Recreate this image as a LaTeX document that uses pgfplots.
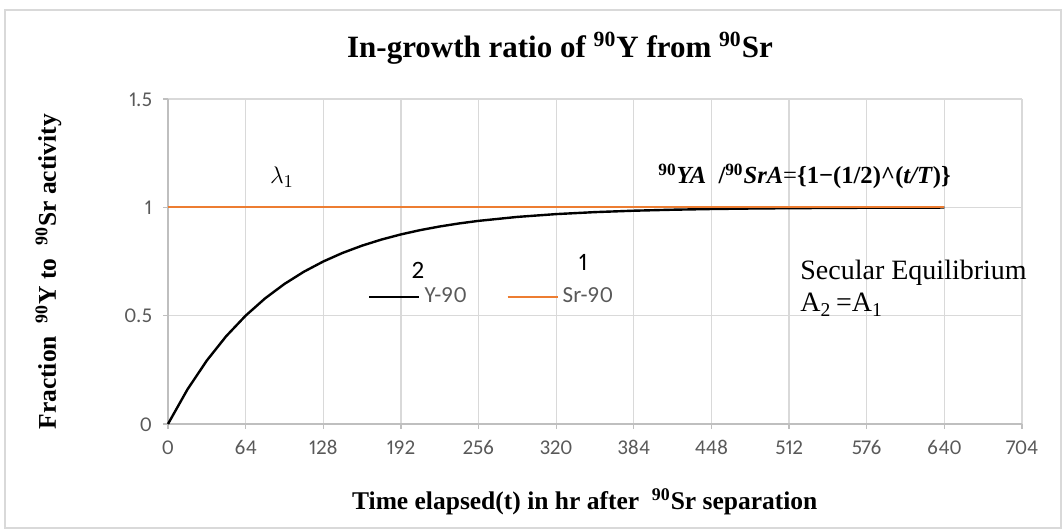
\documentclass[border=0pt]{standalone}
\usepackage{fontspec}
\setmainfont{Liberation Serif}
\newfontfamily\calibri[Numbers={Lining,Proportional}]{Carlito}
\usepackage{pgfplots}
\pgfplotsset{compat=1.18}
\definecolor{gridgray}{HTML}{D9D9D9}
\definecolor{axgray}{HTML}{BFBFBF}
\definecolor{txtgray}{HTML}{595959}
\definecolor{xlorange}{HTML}{ED7D31}
\begin{document}
\begin{tikzpicture}[x=0.5pt,y=0.5pt]
\path[use as bounding box] (0,0) rectangle (1062,529);
\draw[gridgray, line width=0.6pt] (5,1) rectangle (1061,519);
\begin{axis}[
  at={(84pt,52.5pt)}, anchor=south west,
  scale only axis, width=427pt, height=162.5pt,
  xmin=0, xmax=704, ymin=0, ymax=1.5,
  xtick={0,64,128,192,256,320,384,448,512,576,640,704},
  xticklabels={0,64,128,192,256,320,384,448,512,576,640,704},
  ytick={0,0.5,1,1.5},
  yticklabels={0,0.5,1,1.5},
  axis lines=left,
  axis line style={-, draw=axgray, line width=0.6pt},
  grid=major,
  major grid style={draw=gridgray, line width=0.6pt},
  tick align=outside,
  major tick length=2.5pt,
  tick style={draw=axgray, line width=0.6pt},
  ticklabel style={font=\calibri\fontsize{10.5}{12}\selectfont, text=txtgray},
  /pgf/number format/assume math mode=true,
  xticklabel style={yshift=-2pt, text height=7.2pt, text depth=0pt},
  yticklabel style={xshift=-2pt, text height=7.2pt, text depth=0pt},
  title={In-growth ratio of \textsuperscript{90}Y from \textsuperscript{90}Sr},
  title style={at={(axis description cs:0.459,1.12)}, anchor=center, font=\fontsize{15.5}{18}\selectfont\bfseries},
  xlabel={Time elapsed(t) in hr after\ \ \textsuperscript{90}Sr separation},
  xlabel style={at={(axis description cs:0.488,-0.24)}, anchor=center, font=\fontsize{12.75}{15}\selectfont\bfseries},
  ylabel={Fraction\ \ \textsuperscript{90}Y to\ \ \textsuperscript{90}Sr activity},
  ylabel style={at={(axis description cs:-0.14,0.468)}, anchor=center, rotate=0, font=\fontsize{12.75}{15}\selectfont\bfseries},
  legend columns=2,
  legend style={at={(axis description cs:0.38,0.391)}, anchor=center, draw=none, fill=none,
    font=\calibri\fontsize{11.5}{13}\selectfont, text=txtgray,
    /tikz/every even column/.append style={column sep=18pt}},
  legend image code/.code={\draw[#1] (0pt,0pt) -- (25pt,0pt);},
  clip=false,
]
\addplot[black, line width=1.2pt] coordinates {
(0,0) (16,0.1591) (32,0.2929) (48,0.4054) (64,0.5) (80,0.5796) (96,0.6464)
(112,0.7027) (128,0.75) (144,0.7898) (160,0.8232) (176,0.8513) (192,0.875)
(208,0.8949) (224,0.9116) (240,0.9257) (256,0.9375) (288,0.9558) (320,0.96875)
(352,0.9779) (384,0.98438) (416,0.98895) (448,0.99219) (480,0.99448) (512,0.99609)
(576,0.99805) (640,0.99902)};
\addlegendentry{Y-90}
\addplot[xlorange, line width=1pt] coordinates {(0,1) (640,1)};
\addlegendentry{Sr-90}
\end{axis}
\node[font=\fontsize{13}{15}\selectfont] at (282,352) {$\lambda_1$};
\node[font=\fontsize{12.3}{14}\selectfont\bfseries, anchor=base west, inner sep=0pt] at (658,345)
  {\textsuperscript{90}\textit{YA}\ \ /\textsuperscript{90}\textit{SrA}\textmd{=}\{1−(1/2)\^{}(\textit{t/T})\}};
\node[font=\calibri\fontsize{12.5}{15}\selectfont] at (418,259) {2};
\node[font=\calibri\fontsize{12.5}{15}\selectfont] at (583,267) {1};
\node[font=\fontsize{14}{16}\selectfont, anchor=base west, inner sep=0pt] at (800,249) {Secular Equilibrium};
\node[font=\fontsize{14}{16}\selectfont, anchor=base west, inner sep=0pt] at (800,217) {A\textsubscript{2}\,=A\textsubscript{1}};
\end{tikzpicture}
\end{document}
